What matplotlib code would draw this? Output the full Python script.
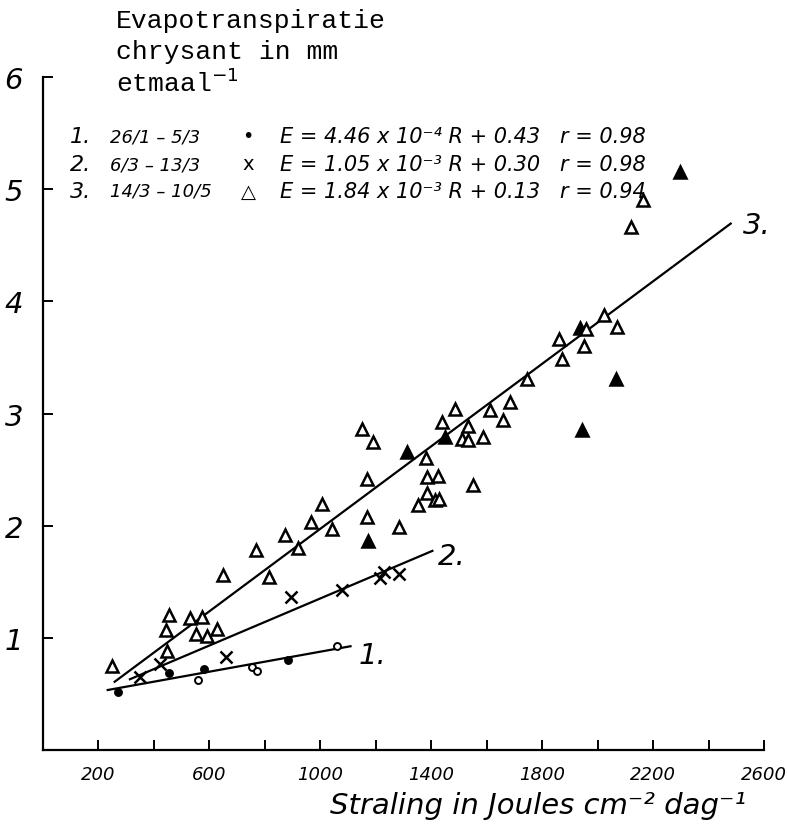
import matplotlib
matplotlib.use('Agg')
import matplotlib.pyplot as plt

# period 1 (dots)
dot_R = [273, 456, 560, 582, 754, 772, 884, 1060]
dot_E = [0.52, 0.69, 0.62, 0.72, 0.74, 0.70, 0.80, 0.93]
dot_filled = [1, 1, 0, 1, 0, 0, 1, 0]

# period 2 (crosses)
cross_R = [351, 423, 661, 895, 1078, 1216, 1231, 1285]
cross_E = [0.65, 0.77, 0.83, 1.36, 1.43, 1.53, 1.59, 1.57]

# period 3 (triangles)
tri_R = [249, 448, 445, 456, 532, 575, 553, 593, 629, 649, 769, 816, 874, 921,
         968, 1008, 1042, 1150, 1168, 1168, 1173, 1191, 1285, 1314, 1352, 1382,
         1386, 1386, 1415, 1429, 1426, 1440, 1450, 1486, 1512, 1534, 1534, 1550,
         1588, 1613, 1660, 1685, 1745, 1861, 1873, 1937, 1959, 1943, 1953, 2024,
         2067, 2071, 2120, 2165, 2297]
tri_E = [0.75, 0.88, 1.07, 1.20, 1.18, 1.19, 1.03, 1.02, 1.08, 1.56, 1.78, 1.54,
         1.92, 1.80, 2.03, 2.19, 1.97, 2.86, 2.42, 2.08, 1.86, 2.75, 1.99, 2.66,
         2.18, 2.60, 2.43, 2.29, 2.23, 2.24, 2.44, 2.92, 2.79, 3.04, 2.77, 2.89,
         2.76, 2.36, 2.79, 3.03, 2.94, 3.10, 3.31, 3.66, 3.49, 3.76, 3.75, 2.85,
         3.60, 3.88, 3.31, 3.77, 4.66, 4.90, 5.15]
# 1 = blacked-in triangle
tri_filled = [0] * 20 + [1, 0, 0, 1] + [0] * 8 + [1] + [0] * 12 + [1, 0, 1] + [0] * 2 + [1] + [0] * 3 + [1]

# regression lines E = a*R + b, drawn over the measured range
fit_slope = [4.46e-4, 1.05e-3, 1.84e-3]
fit_icept = [0.43, 0.30, 0.13]
fit_start = [235, 315, 260]
fit_end = [1110, 1405, 2480]
fit_label = ['1.', '2.', '3.']
label_pos = [(1140, 0.85), (1425, 1.73), (2525, 4.68)]

periods = ['26/1 \u2013 5/3', '6/3 \u2013 13/3', '14/3 \u2013 10/5']
symbols = ['\u2022', 'x', '\u25b3']
eq_text = ['E = 4.46 x 10\u207b\u2074 R + 0.43',
           'E = 1.05 x 10\u207b\u00b3 R + 0.30',
           'E = 1.84 x 10\u207b\u00b3 R + 0.13']
r_text = ['r = 0.98', 'r = 0.98', 'r = 0.94']

x_major = [200, 600, 1000, 1400, 1800, 2200, 2600]
x_minor = [400, 800, 1200, 1600, 2000, 2400]
y_ticks = [1, 2, 3, 4, 5, 6]

W, H = 787, 828
fig = plt.figure(figsize=(W / 100, H / 100), dpi=100)
ax = fig.add_axes([42.5 / W, 77 / H, 721.5 / W, 673 / H])
ax.set_xlim(0, 2600)
ax.set_ylim(0, 6)

for side in ['top', 'right']:
    ax.spines[side].set_visible(False)
for side in ['left', 'bottom']:
    ax.spines[side].set_linewidth(1.6)

ax.set_xticks(x_major)
ax.set_xticks(x_minor, minor=True)
ax.set_yticks(y_ticks)
ax.tick_params(axis='both', which='both', direction='in', length=7, width=1.4)
ax.tick_params(axis='x', which='major', pad=11, labelsize=13)
ax.tick_params(axis='y', pad=14, labelsize=21)
for lab in ax.get_xticklabels() + ax.get_yticklabels():
    lab.set_fontstyle('italic')

# fitted lines
for a, b, r0, r1, lab, pos in zip(fit_slope, fit_icept, fit_start, fit_end,
                                  fit_label, label_pos):
    ax.plot([r0, r1], [a * r0 + b, a * r1 + b], color='black', lw=1.6)
    ax.text(pos[0], pos[1], lab, fontsize=21, style='italic', va='center')

# points
for R, E, f in zip(dot_R, dot_E, dot_filled):
    ax.plot(R, E, 'o', ms=5, mec='black', mew=1.4,
            mfc='black' if f else 'white', zorder=3)
ax.plot(cross_R, cross_E, 'x', ms=8, mec='black', mew=1.8, ls='none', zorder=3)
for R, E, f in zip(tri_R, tri_E, tri_filled):
    ax.plot(R, E, '^', ms=9, mec='black', mew=1.8,
            mfc='black' if f else 'white', zorder=3)

# title (typewriter)
title_lines = ['Evapotranspiratie', 'chrysant in mm', r'etmaal$^{-1}$']
for i, t in enumerate(title_lines):
    fig.text(116 / W, 1 - (21 + 31 * i) / H, t, family='Liberation Mono',
             fontsize=19, va='center', ha='left')

# hand-written legend
row_y = [137, 165, 192]
for i in range(3):
    y = 1 - row_y[i] / H
    fig.text(70 / W, y, '%d.' % (i + 1), fontsize=16, style='italic', va='center')
    fig.text(110 / W, y, periods[i], fontsize=13, style='italic', va='center')
    fig.text(248 / W, y, symbols[i], fontsize=14, ha='center', va='center')
    fig.text(280 / W, y, eq_text[i], fontsize=15, style='italic', va='center')
    fig.text(560 / W, y, r_text[i], fontsize=15, style='italic', va='center')

fig.text(330 / W, 1 - 806 / H, 'Straling in Joules cm\u207b\u00b2 dag\u207b\u00b9',
         fontsize=21, style='italic', va='center', ha='left')

fig.savefig('out.png', dpi=100)
